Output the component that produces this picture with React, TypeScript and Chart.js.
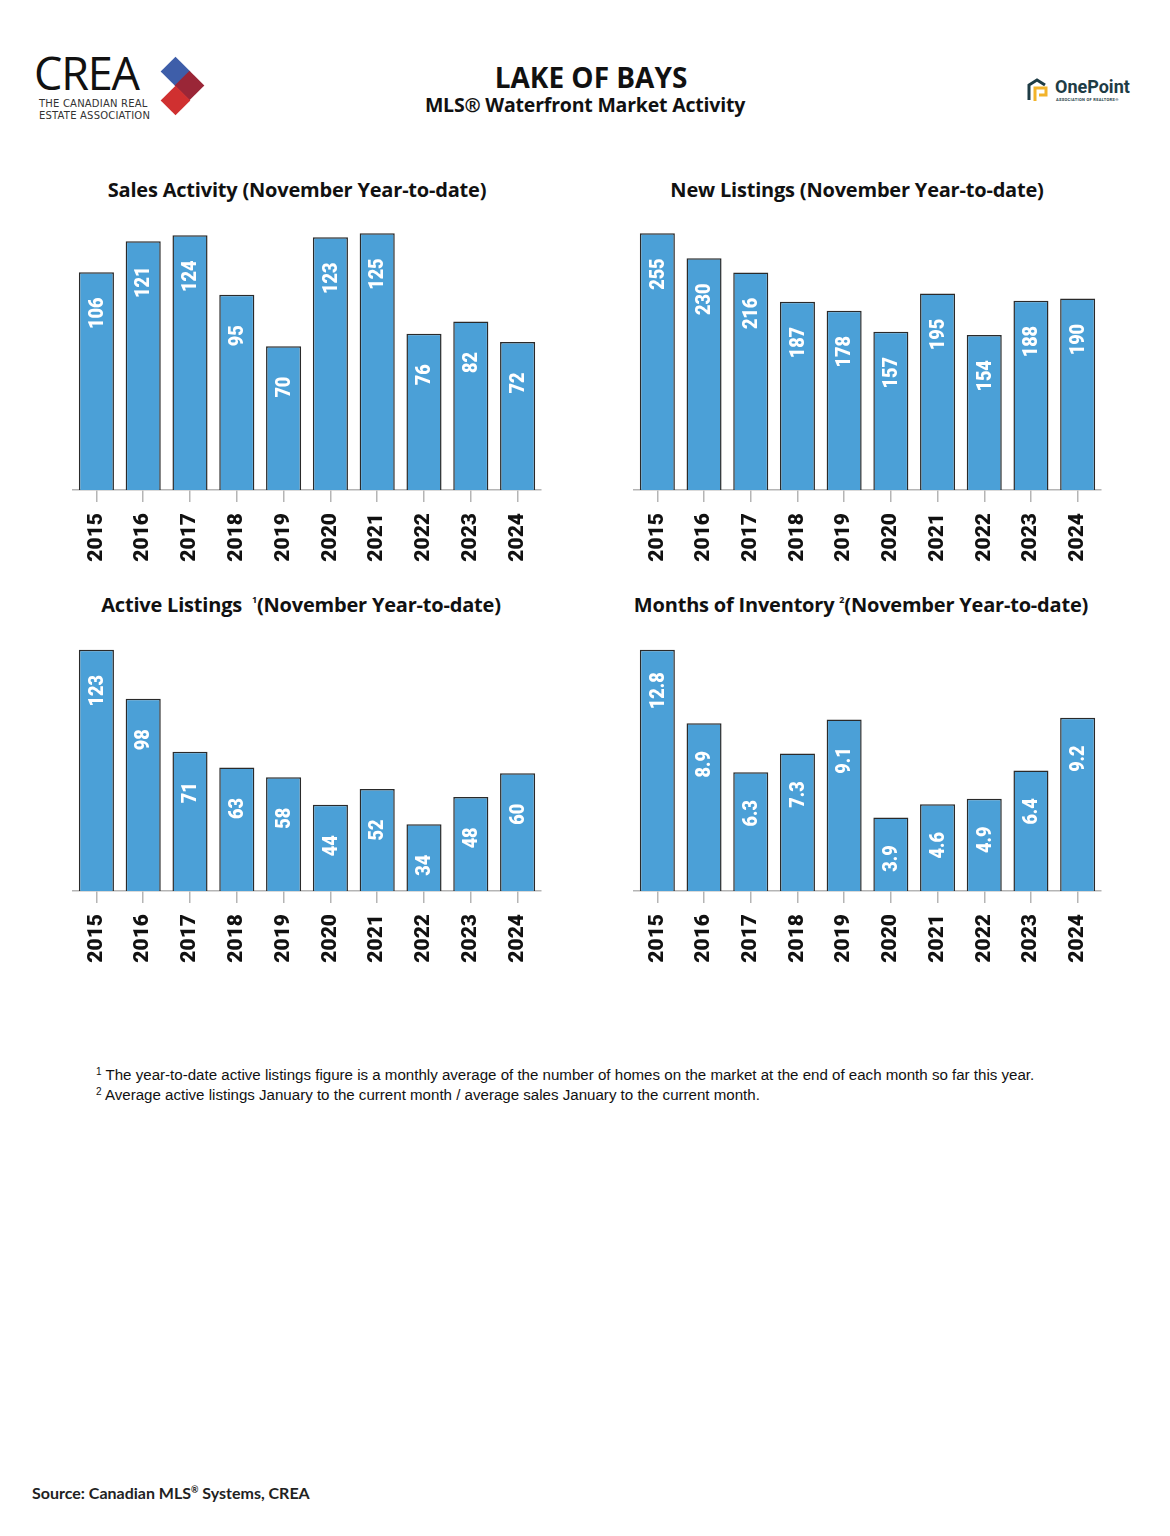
import React, { useEffect, useRef } from 'react';
import { Chart, registerables } from 'chart.js';

Chart.register(...registerables);

const years = ['2015', '2016', '2017', '2018', '2019', '2020', '2021', '2022', '2023', '2024'];
const salesActivity = [106, 121, 124, 95, 70, 123, 125, 76, 82, 72];
const newListings = [255, 230, 216, 187, 178, 157, 195, 154, 188, 190];
const activeListings = [123, 98, 71, 63, 58, 44, 52, 34, 48, 60];
const monthsOfInventory = [12.8, 8.9, 6.3, 7.3, 9.1, 3.9, 4.6, 4.9, 6.4, 9.2];

const BAR_COLOR = '#4ba0d7';
const NUM_FONT = 'Roboto, "Liberation Sans", sans-serif';
const TITLE_FONT = '"Open Sans", Lato, sans-serif';

const valueLabelPlugin = {
  id: 'valueLabels',
  afterDatasetsDraw(chart: any, _args: any, opts: any) {
    const ctx = chart.ctx;
    const meta = chart.getDatasetMeta(0);
    const data = chart.data.datasets[0].data;
    const decimals = opts && opts.decimals ? opts.decimals : 0;
    ctx.save();
    ctx.fillStyle = '#ffffff';
    ctx.font = '900 21px ' + NUM_FONT;
    ctx.textAlign = 'center';
    ctx.textBaseline = 'middle';
    meta.data.forEach((bar: any, i: number) => {
      ctx.save();
      ctx.translate(bar.x + 1, bar.y + 41);
      ctx.rotate(-Math.PI / 2);
      ctx.scale(0.86, 1);
      ctx.fillText(Number(data[i]).toFixed(decimals), 0, 0);
      ctx.restore();
    });
    ctx.restore();
  },
};

type BarProps = {
  values: number[];
  decimals: number;
  left: number;
  top: number;
  width: number;
  height: number;
  padLeft: number;
  padRight: number;
};

function BarChart({ values, decimals, left, top, width, height, padLeft, padRight }: BarProps) {
  const ref = useRef<HTMLCanvasElement | null>(null);
  useEffect(() => {
    if (!ref.current) return;
    const chart = new Chart(ref.current, {
      type: 'bar',
      data: {
        labels: years,
        datasets: [
          {
            data: values,
            backgroundColor: BAR_COLOR,
            borderColor: '#2a2a2a',
            borderWidth: { top: 1.5, left: 1.5, right: 1.5, bottom: 0 },
            borderSkipped: 'bottom',
            barPercentage: 0.75,
            categoryPercentage: 1,
          },
        ],
      },
      plugins: [valueLabelPlugin],
      options: {
        animation: false,
        responsive: true,
        maintainAspectRatio: false,
        layout: { padding: { top: 28, bottom: 0, left: padLeft, right: padRight } },
        plugins: {
          legend: { display: false },
          tooltip: { enabled: false },
          title: { display: false },
          valueLabels: { decimals },
        } as any,
        scales: {
          x: {
            offset: true,
            grid: {
              offset: false,
              drawOnChartArea: false,
              drawTicks: true,
              tickLength: 12,
              color: '#b5b5b5',
              lineWidth: 1.5,
            },
            border: { display: true, color: '#b5b5b5', width: 1.5 },
            ticks: {
              minRotation: 90,
              maxRotation: 90,
              autoSkip: false,
              padding: 11,
              color: '#111111',
              font: { family: NUM_FONT, weight: '900', size: 21 },
            },
            afterFit: (s: any) => {
              s.height = 80;
            },
          },
          y: {
            display: false,
            min: 0,
            max: Math.max(...values) * 1.02,
          },
        },
      } as any,
    });
    return () => chart.destroy();
  }, [values, decimals, padLeft, padRight]);
  return (
    <div style={{ position: 'absolute', left, top, width, height }}>
      <canvas ref={ref} />
    </div>
  );
}

const supStyle: React.CSSProperties = {
  fontSize: 9,
  lineHeight: 0,
  verticalAlign: 'baseline',
  position: 'relative',
  top: -9,
};

function ChartTitle({ cx, cy, children }: { cx: number; cy: number; children: React.ReactNode }) {
  return (
    <div
      style={{
        position: 'absolute',
        left: cx - 300,
        top: cy - 14,
        width: 600,
        textAlign: 'center',
        fontFamily: TITLE_FONT,
        fontWeight: 700,
        fontSize: 20,
        letterSpacing: -0.2,
        lineHeight: '28px',
        color: '#111',
        whiteSpace: 'pre',
      }}
    >
      {children}
    </div>
  );
}

function CreaLogo() {
  const sq = (cx: number, cy: number, color: string) => (
    <div
      style={{
        position: 'absolute',
        left: cx - 10.5,
        top: cy - 10.5,
        width: 21,
        height: 21,
        background: color,
        transform: 'rotate(45deg)',
      }}
    />
  );
  return (
    <>
      <div
        style={{
          position: 'absolute',
          left: 34,
          top: 48,
          fontFamily: '"Open Sans", sans-serif',
          fontWeight: 400,
          fontSize: 45,
          lineHeight: '50px',
          letterSpacing: -1.2,
          color: '#111',
        }}
      >
        CREA
      </div>
      <div
        style={{
          position: 'absolute',
          left: 39,
          top: 98,
          fontFamily: '"DejaVu Sans", sans-serif',
          fontSize: 10,
          lineHeight: '12px',
          letterSpacing: 0.2,
          color: '#333',
          whiteSpace: 'nowrap',
        }}
      >
        THE CANADIAN REAL
        <br />
        ESTATE ASSOCIATION
      </div>
      {sq(175, 71, '#3e5ea9')}
      {sq(189, 85, '#9a2637')}
      {sq(175, 100, '#d03030')}
    </>
  );
}

function OnePointLogo() {
  return (
    <>
      <svg
        style={{ position: 'absolute', left: 1026, top: 76 }}
        width={26}
        height={28}
        viewBox="0 0 26 28"
      >
        <path d="M3 24 L3 9 L11 4 L19 9" fill="none" stroke="#1e3c45" strokeWidth={3} />
        <path d="M9 25 L9 12 L20 12 L20 19 L13 19" fill="none" stroke="#f2b32b" strokeWidth={3} />
      </svg>
      <div
        style={{
          position: 'absolute',
          left: 1055,
          top: 76,
          fontFamily: 'Roboto, sans-serif',
          fontWeight: 700,
          fontSize: 18,
          lineHeight: '22px',
          color: '#1e3c45',
        }}
      >
        OnePoint
      </div>
      <div
        style={{
          position: 'absolute',
          left: 1056,
          top: 97,
          fontFamily: 'Roboto, sans-serif',
          fontWeight: 700,
          fontSize: 4,
          lineHeight: '5px',
          letterSpacing: 0.3,
          color: '#1e3c45',
          whiteSpace: 'nowrap',
        }}
      >
        ASSOCIATION OF REALTORS®
      </div>
    </>
  );
}

export default function App() {
  return (
    <div
      style={{
        position: 'absolute',
        left: 0,
        top: 0,
        width: 1170,
        height: 1536,
        background: '#fff',
        overflow: 'hidden',
      }}
    >
      <CreaLogo />
      <OnePointLogo />
      <div
        style={{
          position: 'absolute',
          left: 291,
          top: 59,
          width: 600,
          textAlign: 'center',
          fontFamily: TITLE_FONT,
          fontWeight: 700,
          fontSize: 28,
          lineHeight: '36px',
          color: '#111',
        }}
      >
        LAKE OF BAYS
      </div>
      <div
        style={{
          position: 'absolute',
          left: 285,
          top: 91,
          width: 600,
          textAlign: 'center',
          fontFamily: TITLE_FONT,
          fontWeight: 700,
          fontSize: 19.5,
          letterSpacing: -0.2,
          lineHeight: '28px',
          color: '#111',
        }}
      >
        MLS® Waterfront Market Activity
      </div>

      <ChartTitle cx={297} cy={190}>Sales Activity (November Year-to-date)</ChartTitle>
      <ChartTitle cx={857} cy={190}>New Listings (November Year-to-date)</ChartTitle>
      <ChartTitle cx={301} cy={605}>
        {'Active Listings  '}
        <span style={supStyle}>1</span>
        (November Year-to-date)
      </ChartTitle>
      <ChartTitle cx={861} cy={605}>
        {'Months of Inventory '}
        <span style={supStyle}>2</span>
        (November Year-to-date)
      </ChartTitle>

      <BarChart values={salesActivity} decimals={0} left={60} top={200} width={500} height={370} padLeft={13} padRight={19} />
      <BarChart values={newListings} decimals={0} left={620} top={200} width={500} height={370} padLeft={14} padRight={19} />
      <BarChart values={activeListings} decimals={0} left={60} top={617} width={500} height={354} padLeft={13} padRight={19} />
      <BarChart values={monthsOfInventory} decimals={1} left={620} top={617} width={500} height={354} padLeft={14} padRight={19} />

      <div
        style={{
          position: 'absolute',
          left: 96,
          top: 1065,
          fontFamily: '"Liberation Sans", Arial, sans-serif',
          fontSize: 15.1,
          lineHeight: '19.5px',
          color: '#111',
          whiteSpace: 'nowrap',
        }}
      >
        <div>
          <span style={{ fontSize: 10, position: 'relative', top: -5, lineHeight: 0 }}>1</span> The year-to-date active listings figure is a monthly average of the number of homes on the market at the end of each month so far this year.
        </div>
        <div>
          <span style={{ fontSize: 10, position: 'relative', top: -5, lineHeight: 0 }}>2</span> Average active listings January to the current month / average sales January to the current month.
        </div>
      </div>

      <div
        style={{
          position: 'absolute',
          left: 32,
          top: 1483,
          fontFamily: 'Lato, "Open Sans", sans-serif',
          fontWeight: 700,
          fontSize: 16,
          lineHeight: '20px',
          color: '#222',
        }}
      >
        Source: Canadian MLS<span style={{ fontSize: 9, position: 'relative', top: -6, lineHeight: 0 }}>®</span> Systems, CREA
      </div>
    </div>
  );
}
